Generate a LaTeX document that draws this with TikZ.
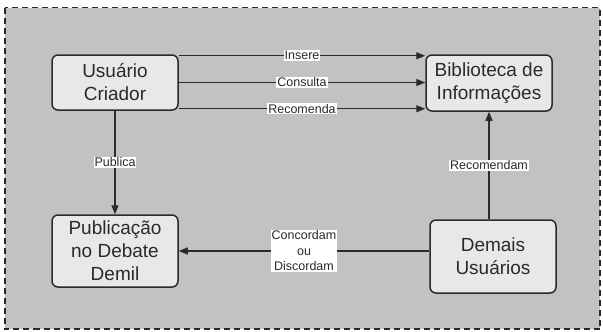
\documentclass[tikz,border=0pt]{standalone}
\usepackage{fontspec}
\setmainfont{Liberation Sans}
\usetikzlibrary{arrows.meta,calc}
\definecolor{panel}{HTML}{C2C2C2}
\definecolor{boxfill}{HTML}{E8E8E8}
\definecolor{ink}{HTML}{2A2A2A}
\tikzset{
  entity/.style={draw=ink, line width=1.5pt, fill=boxfill, rounded corners=6pt,
    minimum width=126pt, align=center, text=ink, inner sep=2pt,
    font=\fontsize{19}{23}\selectfont},
  flow/.style={draw=ink, line width=1.2pt, -{Triangle[length=9pt,width=7pt]}},
  tag/.style={fill=white, text=ink, inner sep=1pt, align=center,
    font=\fontsize{12.5}{15.5}\selectfont},
}
\begin{document}
\begin{tikzpicture}[x=1pt,y=-1pt]
  \useasboundingbox (0,0) rectangle (603,332);
  % dashed panel
  \draw[ink, line width=1.1pt, dash pattern=on 6pt off 4pt, fill=panel]
    (5,7.5) rectangle (600,329);

  % entities
  \node[entity, minimum height=55pt] (uc)  at (115,82.5) {Usuário\\Criador};
  \node[entity, minimum height=56pt] (bib) at (489,83)   {Biblioteca de\\Informações};
  \node[entity, minimum height=72pt] (pub) at (115,251)  {Publicação\\no Debate\\Demil};
  \node[entity, minimum height=73pt] (dem) at (493,256.5){Demais\\Usuários};

  % links from the creator to the library
  \draw[flow] ([yshift=-1.5pt]uc.north east) -- node[tag]{Insere} ([yshift=-1.5pt]bib.north west);
  \draw[flow] (uc.east) -- node[tag]{Consulta} (uc.east -| bib.west);
  \draw[flow] ([yshift=2pt]uc.south east) -- node[tag]{Recomenda} ([yshift=2pt]uc.south east -| bib.west);

  % creator publishes
  \draw[flow] (uc.south) -- node[tag]{Publica} (pub.north);

  % other users
  \coordinate (demtop) at (bib.south |- dem.north);
  \draw[flow] (demtop) -- node[tag]{Recomendam} (bib.south);
  \coordinate (demleft) at (dem.west |- pub.east);
  \draw[flow] (demleft) -- node[tag]{Concordam\\ou\\Discordam} (pub.east);
\end{tikzpicture}
\end{document}
